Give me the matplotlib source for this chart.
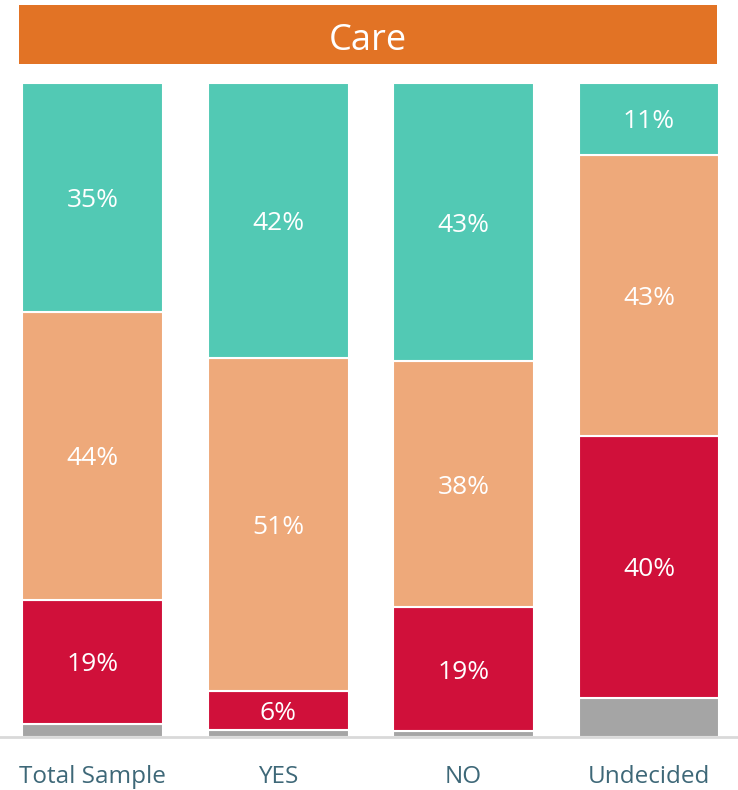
import matplotlib
matplotlib.use("Agg")
import matplotlib.pyplot as plt
from matplotlib.patches import Rectangle
import numpy as np

plt.rcParams['font.family'] = ['Open Sans', 'DejaVu Sans']

categories = ["Total Sample", "YES", "NO", "Undecided"]
gray_vals = [2, 1, 1, 6]
red_vals = [19, 6, 19, 40]
orange_vals = [44, 51, 38, 43]
teal_vals = [35, 42, 43, 11]
red_labels = ["19%", "6%", "19%", "40%"]
orange_labels = ["44%", "51%", "38%", "43%"]
teal_labels = ["35%", "42%", "43%", "11%"]
title = "Care"

colors = {"gray": "#A5A5A5", "red": "#D0103A", "orange": "#EEA97A", "teal": "#52C9B4"}

fig = plt.figure(figsize=(7.38, 7.90), dpi=100)
ax = fig.add_axes([0, 0.0671, 1, 0.8278])

x = np.arange(len(categories))
series = [
    (gray_vals, colors["gray"], None),
    (red_vals, colors["red"], red_labels),
    (orange_vals, colors["orange"], orange_labels),
    (teal_vals, colors["teal"], teal_labels),
]
totals = np.sum([np.array(s[0], float) for s in series], axis=0)
bottom = np.zeros(len(categories))
width = 0.76
for vals, col, labels in series:
    v = np.array(vals, float) / totals * 100
    ax.bar(x, v, width, bottom=bottom, color=col, edgecolor="white", linewidth=1.5)
    if labels is not None:
        for xi, b, h, lab in zip(x, bottom, v, labels):
            ax.text(xi, b + h / 2, lab, ha="center", va="center_baseline",
                    color="white", fontsize=19)
    bottom += v

ax.set_xlim(-0.5, 3.48)
ax.set_ylim(0, 100)
ax.axis("off")
ax.axhline(0, color="#D9D9D9", linewidth=2, clip_on=False)

for xi, c in zip(x, categories):
    ax.text(xi, -5.6, c, ha="center", va="center_baseline", color="#3E6878", fontsize=17.5)

fig.patches.append(Rectangle((0.0257, 0.919), 0.9458, 0.0747, transform=fig.transFigure,
                             facecolor="#E27325", edgecolor="none"))
fig.text(0.4985, 0.954, title, ha="center", va="center_baseline", color="white", fontsize=26)

fig.savefig("out.png", dpi=100)
